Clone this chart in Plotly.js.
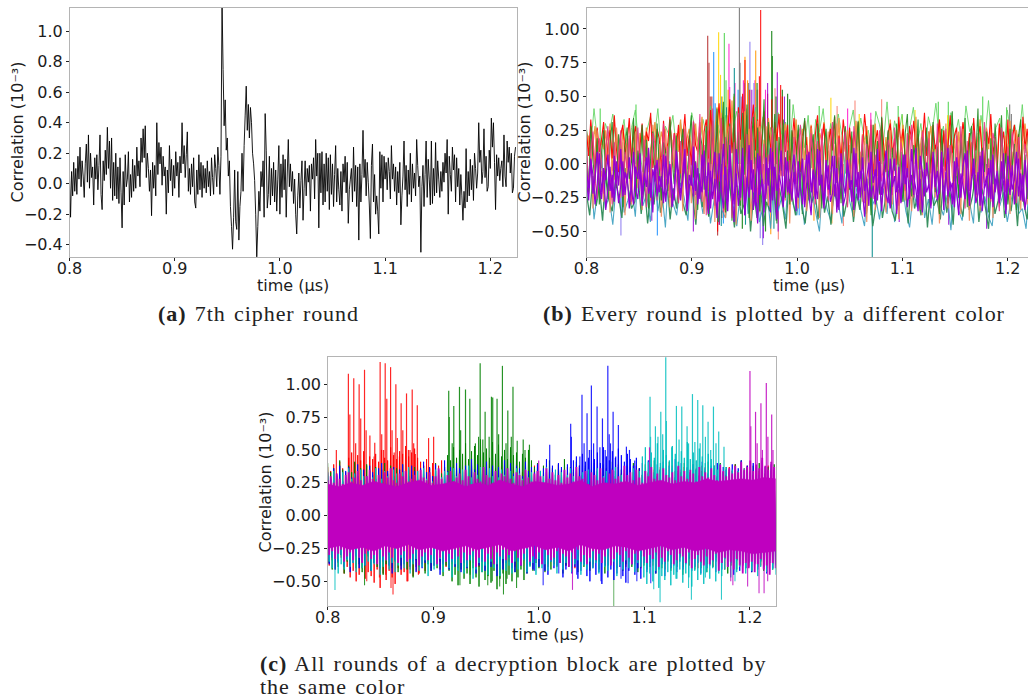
<!DOCTYPE html>
<html><head><meta charset="utf-8">
<script src="https://cdn.plot.ly/plotly-3.0.1.min.js"></script>
<style>html,body{margin:0;padding:0;background:#fff;overflow:hidden}
text.annotation-text[style*="Liberation Serif"]{letter-spacing:.95px;word-spacing:1.8px}
</style>
</head><body><div id="chart"></div>
<script>
// All correlation series are in hundredths of 10^-3.
const seventhRound = [
6,-22,8,-8,14,-5,10,-7,18,3,24,-2,15,5,-9,13,26,1,32,-3,20,4,11,-14,17,
3,19,-4,12,32,-7,-17,15,2,22,6,37,10,28,-3,30,-11,14,-8,20,-10,11,-13,17,-6,
-29,8,-14,19,-2,3,21,-12,6,-9,16,-5,12,-3,24,5,15,-2,30,14,36,17,38,4,20,
10,-5,9,-21,14,-3,12,-8,40,6,27,13,24,-1,18,5,11,-20,9,-6,25,2,16,-8,12,
-3,21,5,14,-9,18,7,40,13,25,4,19,34,-5,10,-7,13,-2,17,-12,-16,9,-7,19,-4,
14,-9,12,-3,10,-6,15,-2,8,-8,17,4,-7,19,10,-2,24,12,-7,18,120,75,38,55,22,
30,5,15,-15,-28,-43,-22,9,-25,-30,8,-37,-15,-5,20,-5,25,45,64,35,52,30,50,40,20,
13,2,-20,-48,-28,-5,-18,8,-2,15,-22,46,22,-16,-7,18,-14,10,-8,14,-12,9,-18,3,25,
-20,13,-9,19,-4,16,-22,7,29,-2,13,-5,8,-13,3,-20,-33,-8,7,-16,2,15,-24,-3,15,
-8,10,1,12,-18,13,3,17,-10,29,5,20,-29,20,-6,21,-14,13,-12,20,-5,17,-17,19,-7,
13,-15,6,25,-12,10,-4,-14,8,-18,13,1,18,-6,14,-26,-4,3,10,-12,24,-5,12,-15,11,
-37,13,-12,6,35,4,16,-8,14,1,-14,-36,12,26,-12,6,-20,-8,-18,-33,21,-3,19,-12,18,
3,14,-4,17,8,-10,25,3,13,-5,11,-14,8,-6,14,-27,-8,5,28,-4,12,-15,9,-7,20,
-12,13,-3,7,-8,29,12,-2,5,-45,-2,12,-15,6,28,-9,16,3,-14,28,-13,10,-8,27,-6,
15,3,-9,8,-5,14,1,20,7,29,-20,18,6,-5,24,9,19,-12,17,-2,10,-14,6,-8,-24,
-5,-16,23,-12,8,-8,16,-4,12,-11,20,10,-3,7,40,14,22,0,8,36,4,18,-5,-2,22,
10,43,24,40,14,-17,19,5,17,2,10,15,-2,32,5,-2,28,14,24,7,20,-6,-3,18,24];

const limeB = [
26,8,41,15,-3,30,22,37,10,19,33,2,27,40,12,-6,24,35,18,41,
5,28,21,36,9,31,14,-4,38,25,11,33,20,43,7,29,16,36,-2,26,
39,13,30,4,23,42,17,35,-5,27,10,38,22,31,6,44,19,28,12,36,
-3,33,24,41,8,30,15,37,21,-7,27,40,11,34,18,25,3,39,29,14,
46,9,32,20,37,-4,26,42,13,30,7,35,23,45,16,28,2,38,19,33,
10,43,24,31,-6,36,17,47,12,27,34,5,40,22,29,15,44,8,32,25];
const tealB = [
-28,5,-41,-19,8,-33,-24,-45,-12,3,-36,-27,-16,-39,10,-31,-22,-43,-6,-35,
-18,-47,2,-29,-38,-14,-25,-42,7,-33,-20,-37,-9,-44,-26,1,-34,-40,-15,-30,
-46,-21,6,-37,-28,-11,-43,-32,-17,-48,-8,-35,-24,-41,4,-30,-38,-13,-45,-26,
-19,-36,-50,-7,-33,-42,-22,-29,-44,9,-27,-39,-16,-34,-46,-10,-31,-25,-41,-18,
-37,3,-43,-28,-14,-35,-47,-20,-32,-5,-40,-26,-45,-12,-30,-38,-23,-49,-8,-34,
-42,-17,-29,-44,6,-36,-24,-39,-46,-11,-31,-21,-43,-27,-15,-37,-33,-48,-9,-40];
const seaB = [
-22,-38,-9,-31,-17,-42,-5,-27,-35,-12,-24,-40,-3,-19,-33,-28,-8,-37,-14,-44,
-21,-30,-6,-36,-25,-11,-41,-18,-33,-2,-29,-38,-15,-23,-45,-7,-32,-20,-39,-10,
-27,-43,-13,-34,-4,-26,-47,-16,-37,-30,-9,-50,-21,-40,-12,-46,-28,-35,-6,-42,
-18,-31,-48,-11,-25,-38,-3,-33,-44,-14,-29,-20,-41,-8,-36,-24,-45,-15,-32,-5,
-39,-27,-12,-43,-22,-34,-7,-37,-17,-46,-30,-10,-40,-25,-4,-35,-42,-19,-28,-13,
-44,-9,-33,-23,-38,-6,-47,-16,-31,-26,-41,-11,-36,-20,-45,-3,-29,-39,-14,-34,
-24,-8,-43,-18,-32,-48,-12,-37,-27,-5,-40,-22,-35,-15,-46,-9,-30,-41,-19,-28];
const forestB = [
12,-21,28,3,-14,19,-30,8,25,-9,-26,15,31,-4,-18,22,6,-32,13,27,
-11,1,34,-24,10,-7,29,-16,18,-33,5,24,-12,30,-2,-27,16,9,-20,33,
4,-15,21,-29,11,26,-6,-23,17,36,-10,2,-34,23,14,-19,28,-38,7,32,
-13,41,-25,19,46,-36,9,30,-42,52,-17,24,-31,38,-8,44,-40,15,35,-22,
27,-35,12,48,-16,31,-28,6,37,-44,20,-5,33,-25,10,-30,25,-12,3,29,
-20,16,34,-9,-27,8,22,-17,30,1,-33,13,26,-6,-23,19,36,-14,5,-29,
11,28,-3,-19,24,-34,7,32,-11,15,-26,21,2,-38,29,-8,17,-22,35,-15,
4,25,-31,12,-5,30,-18,9,-28,23,37,-10,-24,14,1,33,-35,20,-7,27,
-16,6,31,-21,13,-37,26,-2,18,-29,10,39,-13,3,-25,22,-9,34,-32,16,
28,-19,5,41,-27,12,-6,24,-36,19,-15,30,2,-23,36,-11,8,-30,26,-4,
15,-34,21,33,-17,7,-26,29,-12,18];
const orangeB = [
5,-22,18,-33,10,25,-15,-5,-28,14,22,-36,2,-12,27,8,-25,16,-38,20,
-8,-30,12,24,-18,3,-34,21,9,-14,-27,29,6,-21,15,-39,1,26,-11,-32,
18,-6,23,-24,11,-35,28,-16,4,-29,19,-41,13,31,-9,-37,24,-20,7,33,
-43,16,-13,38,-26,-40,22,30,-34,9,-45,35,-18,26,-30,41,-10,-42,19,-24,
32,-36,6,-15,28,-31,11,-22,23,-38,3,-8,29,-27,16,-44,8,25,-19,-33,
12,21,-11,-35,5,27,-24,15,-7,-40,18,-29,2,24,-17,-37,10,30,-13,-26,
7,22,-32,14,-4,-39,26,-20,9,-28,17,-43,4,-15,29,-34,12,-23,20,-10,
-36,6,25,-30,13,-18,-41,19,1,-27,23,-12,-35,8,28,-22,15,-38,3,-6,
24,-31,11,-25,18,-44,7,-16,30,-33,14,-9,-29,21,5,-37,26,-19,10,-42,
16,-3,-28,23,-35,8,-14,27,-24,12,-40,19,-7,-32,25,2,-21,15,-37,9,
-26,22,-11,-34,17,4,-30,13,-20,28];
const pinkB = [
14,-18,7,24,-12,-26,19,3,-22,11,28,-7,-30,16,-15,5,25,-24,9,-3,
21,-28,12,-10,27,1,-20,18,-32,8,-14,23,15,-27,4,-9,30,-18,13,-25,
6,22,-11,-29,17,-6,26,-33,10,-16,32,-23,2,37,-28,14,-38,25,-19,41,
-31,8,-13,34,-36,20,-24,28,-40,16,-8,38,-27,11,-33,22,-17,30,-21,5,
-29,24,-12,15,-26,7,-4,27,-20,12,-31,18,-9,25,-23,3,-28,20,-15,10,
29,-6,-25,14,-18,23,6,-30,17,-11,26,-21,1,-27,13,31,-8,-24,19,-14,
9,24,-32,4,-17,28,12,-22,-5,21,-29,15,-10,33,-26,7,-19,25,-13,2,
-28,18,11,-23,27,-7,-31,16,5,-20,22,-12,29,-25,8,-16,-34,24,13,-9,
19,-27,3,-18,30,-22,10,-11,26,-30,14,6,-24,21,-15,28,-6,-33,17,-20,
12,25,-26,-8,9,-19,31,-13,4,-28,23,16,-10,-35,27,-4,-21,13,-17,24,
7,-29,20,-12,-25,15,3,-18,26,-23];
const amberB = [
9,21,-3,15,28,4,-7,18,11,25,1,30,-5,13,22,7,-2,26,16,-8,
19,5,29,10,-4,23,14,2,27,-6,12,20,31,-1,8,24,17,-9,6,28,
15,-3,22,9,33,3,-7,19,26,12,-2,30,7,16,35,-5,21,11,38,-10,
24,42,6,29,-8,17,36,1,47,13,-12,33,20,-6,39,10,26,-4,31,14,
2,28,-7,18,9,34,22,-3,12,27,5,-9,19,30,8,-1,24,15,33,-6,
11,26,3,20,-5,29,13,7,-8,23,17,31,1,10,-4,27,21,6,34,-7,
16,9,25,-2,19,12,32,4,-6,22,14,28,8,-3,18,30,-9,11,24,2,
20,-5,33,7,15,26,-1,13,29,5,-7,21,17,9,35,-4,12,25,3,-8,
18,28,6,14,-2,31,10,22,-6,16,27,1,19,-9,24,8,30,12,-3,20,
5,26,-7,15,33,9,-1,23,11,29,-5,17,4,27,13,-8,21,6,32,-2,
16,25,8,-4,19,30,10,-6,22,14];
const redB = [
24,6,33,12,-4,27,9,18,31,-2,14,25,4,36,11,-6,22,29,7,16,
34,1,20,28,-8,13,30,5,24,17,38,-3,10,26,19,-5,32,8,15,35,
3,23,12,29,-7,18,37,6,21,-1,31,14,9,27,-10,24,33,4,40,16,
-6,28,45,11,35,-12,22,48,8,30,-9,42,18,52,2,36,-14,26,44,10,
33,-8,20,39,5,27,14,-11,31,17,37,1,23,9,29,-4,15,34,7,25,
-6,19,32,12,4,28,-9,22,36,6,16,30,-2,13,26,10,35,-7,21,3,
33,18,-5,27,8,24,14,31,-3,11,37,20,5,29,-8,16,25,2,34,12,
-6,23,30,7,19,-1,35,13,26,4,-10,28,17,32,9,22,-4,15,38,6,
24,-7,29,11,18,33,1,25,-5,14,36,8,21,27,-2,12,31,16,3,23,
-9,34,10,19,28,5,-3,26,15,37,7,20,-6,30,13,24,2,33,-8,17,
29,9,22,-4,35,11,26,6,18,32];
const violetB = [
-12,-27,3,-8,-30,-15,8,-21,-5,-34,-18,-2,-25,6,-11,-29,-16,2,-23,-7,
-33,-13,9,-19,-26,-4,-31,-10,5,-22,-14,-36,-1,-24,-9,-17,7,-28,-12,-3,
-32,-20,4,-15,-27,-6,11,-35,-18,-8,-24,1,-30,-13,-21,10,-16,-37,-5,-26,
-11,-40,8,-19,-33,-2,-28,14,-22,-43,-7,-31,-15,12,-38,-10,-25,3,-34,-18,
-44,6,-12,-29,-20,-3,-36,9,-24,-41,-8,-16,-32,5,-21,-13,-27,-6,-35,2,
-17,-30,-9,7,-23,-38,-4,-14,-26,10,-19,-33,-11,-1,-28,-22,6,-36,-15,-7,
-31,-24,3,-18,-12,-34,8,-27,-5,-20,-39,-10,1,-25,-16,-30,11,-13,-35,-6,
-22,-29,4,-17,-9,-37,-2,-26,-14,7,-32,-19,-8,-23,12,-28,-11,-36,-4,-21,
-15,-33,5,-10,-27,-18,9,-34,-6,-24,-13,-30,2,-20,-38,-7,-16,-26,10,-31,
-12,-3,-29,-22,6,-35,-17,-9,-25,3,-32,-14,-5,-28,-19,8,-37,-11,-23,-1,
-30,-15,4,-27,-8,-34,-20,11,-13,-26];
const violet2B = [
-5,-18,4,-22,-10,9,-15,-26,-3,-12,7,-20,-8,-28,2,-16,11,-24,-6,-14,
5,-19,-30,-2,-11,8,-23,-7,-17,12,-25,-4,-13,3,-21,-9,-29,6,-15,0,
-18,-27,10,-6,-22,-12,4,-31,-8,-16,13,-20,-3,-26,7,-11,-24,1,-33,-5,
9,-17,-28,-9,15,-21,-35,3,-13,-30,11,-7,-25,6,-38,-15,14,-19,-4,-31,
8,-23,-11,-36,5,-16,12,-27,-2,-20,-8,10,-29,-14,2,-22,-6,7,-18,-25,
-10,4,-32,-13,9,-21,-5,-26,11,-16,-8,-30,3,-19,-12,6,-24,-3,-34,8,
-15,-22,1,-9,-28,12,-17,-6,-25,5,-20,-11,-31,9,-14,-4,-27,2,-23,-8,
10,-18,-33,-7,4,-21,-12,-29,7,-15,-3,-26,11,-10,-19,-35,6,-6,-24,1,
-13,-30,9,-17,-5,-22,3,-28,-9,12,-20,-14,-32,5,-8,-25,-2,8,-16,-27,
-11,4,-23,-6,-31,10,-18,-13,-3,-26,7,-21,-9,-29,2,-15,-34,6,-5,-19,
-12,9,-24,-7,-28,3,-17,11,-10,-22];

// Panel (b) isolated excursions: time (us) and correlation (10^-3)
const firebrickT = [.9151,.9163,.9175,.9190,.9245,.9262,.9285];
const firebrickV = [.95,.75,.5,.5,-.53,-.45,-.4];
const dodgerT = [.9208,.9222,.9280,.9350,.9440,.8673,.8327,.9300,.9410,1.0020];
const dodgerV = [.83,.45,.5,.42,.55,-.53,-.35,-.44,-.42,-.38];
const goldT = [.9255,.9273,.9290,1.0321,1.0590,1.1000,1.1120,1.1430];
const goldV = [.975,.66,.5,.49,.37,.36,.40,.36];
const limeT = [.9309,.9325,1.0210,1.1341,1.1436,1.1763,1.1990,1.0960,.8130,.8470];
const limeV = [.97,.62,.43,.46,.46,.50,.42,.43,.41,.44];
const magentaT = [.9353,.9360,.9410,.9600,.9700,.9490,1.0480,1.0700];
const magentaV = [.89,.57,.6,.62,.55,.62,.41,.38];
const tealT = [.9404,1.0714,.9330,.9510,.9280,.9780];
const tealV = [.71,-.69,.42,-.45,-.46,-.48];
const grayT = [.9452,.9458,1.2019,1.2035,.9540];
const grayV = [1.16,.75,.44,.37,.6];
const orangeT = [.9505,.9607,.9625,.9345,.9530,.9400,1.0330,.9420,1.0160,.9750];
const orangeV = [.795,.84,.55,.55,.62,.5,-.44,-.38,-.42,-.52];
const slateT = [.9552,.9590,.9500,.9620,.9673,.9650,.8327,.9470];
const slateV = [.905,.6,.6,.55,-.6,-.55,-.53,.5];
const redSpikeT = [.9654,.9642,.9505,.9720,.9844,.9860,.9550,.9760,.9245];
const redSpikeV = [1.14,.65,.77,.52,.585,.5,.55,.48,-.5];
const greenSpikeT = [.9759,.9765,.9620,.9800,.9860,.9910,.9930,.9480,.9700,1.0050];
const greenSpikeV = [.985,.8,.6,.5,.55,.52,.48,-.48,-.5,-.37];
const violetSpikeT = [.9812,.9570,.9720,.9880,.9820,.9680,.9015,.8620,1.1800,1.1440,1.0970,.9260];
const violetSpikeV = [.68,.55,.6,.5,-.5,-.55,-.5,-.42,-.48,-.45,-.43,-.45];
const salmonT = [.9822,1.0550,1.0803,1.0380,.9790,1.0440];
const salmonV = [-.56,.47,.48,.43,.56,-.46];

// Panel (c): alternating upper and lower excursions, one pair per colour
const redUp = [
37,34,39,32,41,36,33,44,48,40,46,42,49,38,45,43,47,41,50,44,
42,52,46,43,49,47,53,45,48,51,44,41,38,43,36,40,34,38,42,35,
33,37,31,36,39,34,30,35,38,32,36,33,37,30,34,31,36,33,38,29,
35,32,37,30,34,33,36,31,35,38,32,34,30,37,33,36,31,39,34,32,
37,30,35,33,38,31,36,34,32,37,30,35,38,33,31,36,34,39,32,35,
30,37,33,38,36,31,34,32,39,35,30,37,33,36,31,38,34,32,35,37,
30,33,39,36,31,34,37,32,35,38,30,36,33,31,37,34,39,32,35,36,
38,33,31,37,34,36,32,38,35,33];
const redLow = [
-38,-34,-41,-36,-32,-44,-39,-47,-42,-50,-45,-40,-48,-43,-46,-51,-41,-55,-44,-49,
-42,-47,-52,-40,-45,-43,-50,-41,-46,-39,-44,-37,-42,-35,-40,-38,-33,-41,-36,-39,
-34,-37,-31,-40,-35,-32,-38,-34,-36,-30,-39,-33,-35,-37,-31,-34,-38,-32,-36,-30,
-35,-33,-39,-31,-37,-34,-32,-38,-30,-36,-33,-35,-31,-39,-34,-37,-32,-36,-30,-38,
-33,-35,-40,-31,-37,-34,-36,-32,-39,-30,-35,-33,-38,-31,-36,-34,-32,-37,-30,-39,
-35,-33,-37,-31,-40,-34,-36,-32,-38,-30,-35,-33,-41,-31,-37,-34,-36,-32,-39,-35,
-38,-31,-33,-40,-36,-30,-37,-34,-39,-32,-35,-33,-41,-31,-38,-36,-34,-30,-37,-35,
-39,-33,-36,-32,-38,-34,-40,-31,-37,-35];
const greenUp = [
40,33,36,30,42,35,29,38,33,41,30,36,28,39,34,31,37,29,35,40,
32,38,30,36,33,39,28,35,31,37,34,29,38,33,36,30,40,35,32,37,
46,42,52,44,50,47,55,43,49,53,46,58,48,51,44,56,47,54,45,50,
43,52,46,48,41,47,44,50,42,37,40,34,38,33,42,36,31,39,35,43,
30,37,33,41,36,29,38,32,35,40,34,31,39,36,33,41,30,37,35,32,
38,29,40,34,36,31,39,33,37,42,30,35,38,32,41,34,29,37,33,40,
36,31,39,35,30,38,34,41,32,36,29,40,33,37,35,31,39,34,42,30,
36,33,38,31,40,35,32,37,34,39];
const greenLow = [
-36,-41,-33,-39,-30,-44,-35,-38,-32,-40,-37,-43,-34,-31,-42,-36,-39,-33,-45,-37,
-30,-40,-35,-43,-38,-32,-41,-36,-47,-34,-39,-31,-44,-37,-42,-33,-40,-35,-46,-38,
-42,-50,-45,-53,-41,-48,-44,-52,-40,-47,-54,-43,-49,-46,-51,-42,-56,-48,-44,-52,
-45,-50,-43,-47,-41,-49,-44,-38,-42,-36,-40,-34,-43,-37,-41,-33,-39,-35,-44,-38,
-32,-40,-36,-43,-34,-39,-31,-42,-37,-35,-41,-33,-44,-38,-36,-30,-40,-34,-42,-37,
-33,-39,-35,-43,-31,-38,-41,-36,-34,-44,-32,-40,-37,-35,-42,-33,-39,-31,-45,-36,
-38,-34,-41,-30,-40,-37,-43,-33,-39,-35,-42,-36,-32,-44,-38,-34,-41,-37,-31,-40,
-36,-43,-33,-39,-35,-42,-38,-34,-41,-37];
const blueUp = [
33,28,36,31,38,26,34,37,29,32,39,27,35,30,38,33,28,36,40,31,
34,29,37,27,35,39,32,30,38,34,28,36,41,33,37,30,39,35,29,42,
34,37,31,40,36,33,38,30,43,35,39,32,36,41,34,38,31,37,33,42,
35,40,32,38,36,30,41,34,37,33,39,31,36,43,35,38,32,40,37,34,
39,33,42,45,38,47,41,44,50,43,48,40,52,45,42,49,44,51,46,41,
47,43,38,44,36,40,34,42,37,33,39,35,41,32,38,36,43,34,40,31,
37,33,39,35,30,41,36,32,38,34,40,31,37,35,33,39,32,36,42,34,
38,33,40,36,31,42,37,34,39,35];
const blueLow = [
-37,-32,-41,-35,-30,-39,-33,-43,-36,-31,-40,-34,-38,-29,-42,-36,-33,-40,-35,-31,
-38,-44,-34,-30,-41,-37,-32,-39,-35,-43,-33,-40,-36,-31,-42,-38,-34,-45,-37,-32,
-41,-35,-39,-33,-43,-36,-40,-34,-31,-44,-38,-35,-42,-33,-39,-37,-46,-34,-41,-36,
-32,-40,-43,-35,-38,-33,-44,-37,-41,-34,-39,-36,-42,-45,-35,-40,-38,-33,-47,-41,
-36,-44,-39,-48,-42,-37,-46,-50,-40,-45,-43,-52,-38,-47,-41,-49,-44,-39,-46,-51,
-42,-37,-45,-40,-48,-36,-43,-39,-35,-44,-41,-37,-46,-34,-40,-38,-43,-35,-41,-37,
-33,-42,-39,-36,-44,-34,-40,-38,-35,-43,-37,-41,-33,-39,-36,-45,-34,-42,-38,-40,
-35,-43,-37,-41,-34,-39,-44,-36,-40,-38];
const cyanUp = [
31,27,34,29,25,33,30,36,28,32,26,35,30,27,33,29,36,31,28,34,
30,26,35,32,28,33,29,37,27,31,34,30,36,28,32,26,35,31,29,34,
33,28,36,30,27,35,32,38,29,33,31,37,34,28,36,30,33,29,35,31,
27,34,30,36,32,28,35,29,33,31,26,34,30,37,28,32,35,29,33,27,
31,36,30,34,28,33,29,35,31,27,36,32,30,34,28,33,37,29,31,35,
27,32,36,30,34,45,52,41,48,44,55,40,50,46,42,53,47,41,49,44,
56,43,48,42,51,45,40,47,43,38,35,39,33,37,31,35,29,34,32,36,
30,34,28,33,31,35,29,32,36,30];
const cyanLow = [
-35,-40,-33,-44,-37,-41,-34,-39,-36,-43,-32,-40,-38,-35,-42,-37,-33,-45,-39,-34,
-41,-36,-43,-38,-32,-40,-35,-44,-37,-33,-42,-39,-34,-46,-36,-41,-38,-33,-43,-35,
-40,-47,-37,-42,-36,-44,-39,-34,-48,-41,-36,-43,-38,-45,-35,-40,-37,-46,-33,-42,
-38,-44,-35,-41,-37,-34,-43,-39,-36,-45,-33,-40,-37,-42,-35,-38,-44,-34,-41,-36,
-39,-43,-37,-34,-45,-38,-41,-35,-40,-36,-44,-33,-39,-42,-37,-35,-46,-38,-41,-34,
-40,-37,-43,-36,-39,-47,-52,-44,-50,-42,-55,-46,-49,-43,-53,-45,-48,-41,-51,-44,
-47,-54,-42,-49,-45,-52,-43,-48,-40,-50,-44,-46,-41,-38,-47,-35,-43,-39,-36,-44,
-38,-42,-35,-46,-39,-37,-43,-36,-41,-45];
const magentaUp = [
27,30,25,32,28,24,31,33,26,29,34,27,23,30,35,28,26,31,24,33,
29,36,27,25,32,30,34,26,28,31,23,35,29,27,33,25,30,36,28,24,
31,34,26,29,32,27,35,30,24,33,28,26,37,31,29,25,34,27,32,30,
36,28,25,33,31,27,35,29,26,32,34,30,24,36,28,33,27,31,25,35,
29,32,26,37,30,28,34,24,33,31,27,36,29,25,32,35,28,30,26,38,
31,33,27,35,29,25,34,30,37,28,32,26,36,31,29,33,27,38,30,34,
28,35,32,26,37,30,33,29,36,31,27,39,34,30,36,32,38,33,41,35,
37,42,34,39,36,44,38,35,41,37];
const magentaLow = [
-30,-27,-33,-29,-26,-35,-31,-28,-34,-25,-32,-36,-29,-27,-33,-30,-37,-26,-31,-34,
-28,-32,-25,-36,-30,-27,-35,-33,-29,-26,-38,-31,-28,-34,-30,-25,-37,-32,-27,-35,
-29,-33,-26,-31,-36,-28,-34,-30,-27,-39,-32,-25,-35,-29,-33,-37,-28,-31,-26,-34,
-30,-36,-27,-32,-38,-29,-25,-35,-31,-33,-28,-37,-26,-30,-34,-32,-27,-36,-29,-31,
-39,-28,-33,-26,-35,-30,-37,-32,-27,-34,-29,-36,-31,-25,-38,-33,-28,-30,-35,-27,
-32,-37,-29,-34,-26,-31,-36,-30,-33,-28,-39,-32,-35,-27,-30,-37,-34,-29,-31,-36,
-28,-40,-33,-30,-35,-38,-31,-37,-34,-29,-42,-36,-32,-39,-35,-41,-33,-38,-44,-36,
-40,-35,-43,-37,-33,-41,-38,-45,-36,-40];
// Solid magenta core of panel (c): its upper and lower edges
const coreUp = [24,22,25,23,26,24,22,25,27,23,24,26,22,25,23,27,24,22,26,25,23,24,27,22,25,24,26,23,25,27,24,26,25,28,26,27,28,27,29,28];
const coreLow = [-25,-23,-26,-24,-27,-23,-25,-22,-26,-24,-27,-25,-23,-26,-24,-22,-27,-25,-23,-26,-24,-27,-22,-25,-26,-23,-24,-27,-25,-23,-26,-24,-27,-25,-28,-26,-27,-29,-28,-27];

// Panel (c) isolated excursions
const redPeakT = [.8082,.8196,.8210,.8247,.8265,.8298,.8313,.8349,.8364,.8400,.8446,.8497,.8512,.8545,.8560,.8596,.8610,.8646,.8660,.8696,.8712,.8747,.8765,.8801,.8815,.8849,.8956,.9004,.8440,.8530,.8630,.8680,.8780,.8830,.8760,.8860];
const redPeakV = [.5,1.08,.77,1.045,.55,1.0,.74,1.11,.65,.61,.555,1.17,.62,1.16,.89,1.13,.65,1.0,.59,.855,.65,.93,.5,.96,.55,.84,.59,.6,.45,.5,.48,.45,.5,.47,-.5,-.45];
const redLowT = [.8619,.8600,.8370,.8550,.8490,.8840];
const redLowV = [-.6,-.55,-.5,-.45,-.47,-.42];
const greenPeakT = [.9147,.9152,.9195,.9249,.9260,.9306,.9347,.9445,.9492,.9552,.9564,.9605,.9656,.9707,.9756,.9796,.9853,.9912,.9180,.9400,.9430,.9470,.9530,.9620,.9690,.9740,.9870];
const greenPeakV = [.95,.75,.835,.98,.65,.96,.89,1.16,.79,.905,.9,.89,1.14,.8,.98,.57,.58,.54,.55,.55,.6,.58,.6,.62,.55,.6,.5];
const greenLowT = [.9253,.9517,.9666,.9630,.9790,.8349,.9700,.9560,.9350];
const greenLowV = [-.53,-.53,-.6,-.54,-.55,-.53,-.48,-.5,-.45];
const greenFaintT = [1.0711];
const greenFaintV = [-.69];
const bluePeakT = [1.0303,1.0310,1.0410,1.0458,1.0499,1.0520,1.0553,1.0604,1.0655,1.0668,1.0705,1.0755,1.0104,1.0831,1.0860,1.0390,1.0430,1.0480,1.0580,1.0630,1.0680,1.0730,1.0910];
const bluePeakV = [.70,.6,.92,.78,.99,.55,.83,.74,1.14,.62,.79,.69,.54,.525,.5,.45,.55,.5,.52,.5,.55,.45,.42];
const blueLowT = [1.0042,1.0847,1.1062,1.0590,1.0360,1.0780,1.0930,.9960,1.0190];
const blueLowV = [-.53,-.515,-.515,-.5,-.45,-.48,-.5,-.42,-.44];
const cyanPeakT = [1.1055,1.1060,1.1106,1.1157,1.1175,1.1204,1.1210,1.1305,1.1356,1.1406,1.1420,1.1457,1.1507,1.1555,1.1605,1.1656,1.1706,1.1756,1.1130,1.1260,1.1330,1.1480,1.1530,1.1580,1.1630,1.1680];
const cyanPeakV = [.905,.6,.68,.79,.62,1.21,.72,.835,.83,.68,.55,.925,.88,.84,.715,.83,.64,.525,.6,.52,.58,.56,.55,.6,.5,.55];
const cyanLowT = [1.1150,1.1447,1.1732,.8069,1.1090,1.1300,1.1580,1.1860,1.1420];
const cyanLowV = [-.66,-.64,-.64,-.565,-.56,-.48,-.47,-.5,-.55];
const magentaPeakT = [1.2002,1.2010,1.2055,1.2070,1.2106,1.2120,1.2157,1.2172,1.2208,1.2220,1.1050,1.0000];
const magentaPeakV = [1.10,.68,.79,.55,.855,.5,1.01,.6,.77,.5,.52,.42];
const magentaLowT = [1.0320,1.2088,1.2136,1.1980,1.1820,1.2170,1.1840];
const magentaLowV = [-.565,-.59,-.59,-.54,-.5,-.5,-.53];

const SCALE = 0.01, T0 = 0.8, T1 = 1.2246;
const W = 1028, H = 699;
const SEVENTH_STEP = 0.001;

function times(n){ const s=(T1-T0)/(n-1); return Array.from({length:n},(_,i)=>T0+i*s); }
function dense(arr,color,width,opacity,ax){
  return {type:'scatter',mode:'lines',x:times(arr.length),y:arr.map(v=>v*SCALE),
    line:{color:color,width:width,simplify:false},opacity:opacity,xaxis:ax[0],yaxis:ax[1],hoverinfo:'skip',showlegend:false};
}
function band(up,low,color,width,ax){
  const y=[];
  up.forEach((v,i)=>{y.push(v*SCALE,low[i]*SCALE);});
  return {type:'scatter',mode:'lines',x:times(y.length),y:y,
    line:{color:color,width:width,simplify:false},xaxis:ax[0],yaxis:ax[1],hoverinfo:'skip',showlegend:false};
}
function solid(up,low,color,ax){
  return {type:'scatter',mode:'lines',x:times(up.length).concat(times(low.length).reverse()),
    y:up.map(v=>v*SCALE).concat(low.slice().reverse().map(v=>v*SCALE)),
    fill:'toself',fillcolor:color,line:{color:color,width:.5},xaxis:ax[0],yaxis:ax[1],hoverinfo:'skip',showlegend:false};
}
function spikes(ts,vs,color,width,opacity,ax){
  const x=[],y=[];
  ts.forEach((t,i)=>{x.push(t,t,null);y.push(0,vs[i],null);});
  return {type:'scatter',mode:'lines',x:x,y:y,line:{color:color,width:width},opacity:opacity,
    xaxis:ax[0],yaxis:ax[1],hoverinfo:'skip',showlegend:false};
}
const A=['x','y'],B=['x2','y2'],C=['x3','y3'];
const traces=[
  {type:'scatter',mode:'lines',x:seventhRound.map((_,i)=>T0+i*SEVENTH_STEP),y:seventhRound.map(v=>v*SCALE),
   line:{color:'#000',width:.9,simplify:false},xaxis:'x',yaxis:'y',hoverinfo:'skip',showlegend:false},

  spikes(limeT,limeV,'#32cd32',1.1,.8,B),
  spikes(dodgerT,dodgerV,'#1e90ff',1.1,.9,B),
  spikes(goldT,goldV,'#ffd700',1.1,.9,B),
  spikes(firebrickT,firebrickV,'#b22222',1.2,.8,B),
  spikes(magentaT,magentaV,'#ff1dce',1.1,.9,B),
  spikes(tealT,tealV,'#008b8b',1.1,.9,B),
  spikes(grayT,grayV,'#707070',1.1,.9,B),
  spikes(orangeT,orangeV,'#ff9800',1.1,.9,B),
  spikes(slateT,slateV,'#7b68ee',1.1,.8,B),
  spikes(salmonT,salmonV,'#fa8072',1.1,.9,B),
  spikes(greenSpikeT,greenSpikeV,'#228b22',1.2,.95,B),
  spikes(redSpikeT,redSpikeV,'#ff0000',1.1,.9,B),
  spikes(violetSpikeT,violetSpikeV,'#9400d3',1.1,.85,B),
  dense(limeB,'#5fd35f',1,.85,B),
  dense(tealB,'#3a9fc0',1.1,.9,B),
  dense(seaB,'#2e8b57',1.3,.95,B),
  dense(amberB,'#f0953c',1.3,.95,B),
  dense(redB,'#ff0000',1.1,.95,B),
  dense(orangeB,'#ef8a5a',1.2,.9,B),
  dense(forestB,'#228b22',1.1,.9,B),
  dense(pinkB,'#e8348a',1.1,.9,B),
  dense(violet2B,'#9400d3',1.3,1,B),
  dense(violetB,'#9400d3',1.2,1,B),

  spikes(redPeakT,redPeakV,'#ff0000',1.2,.85,C),
  spikes(redLowT,redLowV,'#ff0000',1.1,.8,C),
  band(redUp,redLow,'#ff0000',.9,C),
  spikes(greenPeakT,greenPeakV,'#008000',1.2,.85,C),
  spikes(greenLowT,greenLowV,'#008000',1.1,.8,C),
  spikes(greenFaintT,greenFaintV,'#008000',1.1,.55,C),
  band(greenUp,greenLow,'#008000',.9,C),
  spikes(bluePeakT,bluePeakV,'#0000ff',1.2,.85,C),
  spikes(blueLowT,blueLowV,'#0000ff',1.1,.8,C),
  band(blueUp,blueLow,'#0000ff',.9,C),
  spikes(cyanPeakT,cyanPeakV,'#00bfbf',1.2,.85,C),
  spikes(cyanLowT,cyanLowV,'#00bfbf',1.1,.8,C),
  band(cyanUp,cyanLow,'#00bfbf',.9,C),
  spikes(magentaPeakT,magentaPeakV,'#bf00bf',1.2,.85,C),
  spikes(magentaLowT,magentaLowV,'#bf00bf',1.1,.8,C),
  band(magentaUp,magentaLow,'#bf00bf',1.8,C),
  solid(coreUp,coreLow,'#bf00bf',C)
];

const tickFont={family:'"DejaVu Sans", sans-serif',size:16,color:'#1c1c1c'};
const tf=(px0,px1)=>[px0/W,px1/W];
const tfY=(top,bot)=>[1-bot/H,1-top/H];
function xAxis(dom,range,anchor){return {domain:dom,range:range,anchor:anchor,dtick:.1,tick0:.8,tickformat:'.1f',
  showline:true,mirror:true,linecolor:'#b4b4b4',linewidth:1,showgrid:false,zeroline:false,
  ticks:'outside',ticklen:2.5,tickcolor:'#222',tickwidth:1,tickfont:tickFont,ticklabelstandoff:-6};}
function yAxis(dom,range,anchor,d,fmt){return {domain:dom,range:range,anchor:anchor,dtick:d,tick0:0,tickformat:fmt,
  showline:true,mirror:true,linecolor:'#b4b4b4',linewidth:1,showgrid:false,zeroline:false,
  ticks:'outside',ticklen:2.5,tickcolor:'#222',tickwidth:1,tickfont:tickFont};}

const labelFont={family:'"DejaVu Sans", sans-serif',size:16,color:'#1c1c1c'};
const capFont={family:'"Liberation Serif", serif',size:22,color:'#222'};
function note(text,px,py,font,extra){
  return Object.assign({xref:'paper',yref:'paper',x:px/W,y:1-py/H,text:text,showarrow:false,font:font,
    xanchor:'center',yanchor:'middle'},extra||{});
}
const yTitle='Correlation (10⁻³)';
const annotations=[
  note(yTitle,17,132.5,labelFont,{textangle:-90}),
  note(yTitle,524,132.5,labelFont,{textangle:-90}),
  note(yTitle,265,482.5,labelFont,{textangle:-90}),
  note('time (µs)',293,285,labelFont),
  note('time (µs)',809,285,labelFont),
  note('time (µs)',548,634,labelFont),
  note('<b>(a)</b> 7th cipher round',258,313,capFont),
  note('<b>(b)</b> Every round is plotted by a different color',774,313,capFont),
  note('<b>(c)</b> All rounds of a decryption block are plotted by',258,663,capFont,{xanchor:'left'}),
  note('the same color',258,686,capFont,{xanchor:'left'})
];

const layout={width:W,height:H,margin:{l:0,r:0,t:0,b:0},paper_bgcolor:'#fff',plot_bgcolor:'#fff',showlegend:false,
  xaxis:xAxis(tf(69.5,516.7),[.8,1.2251],'y'),
  yaxis:yAxis(tfY(7.5,257),[-.481,1.156],'x',.2,'.1f'),
  xaxis2:xAxis(tf(586.5,1028),[.8,1.2193],'y2'),
  yaxis2:yAxis(tfY(7.5,257),[-.689,1.159],'x2',.25,'.2f'),
  xaxis3:xAxis(tf(327.7,775.7),[.8,1.2246],'y3'),
  yaxis3:yAxis(tfY(357.3,606.3),[-.69,1.205],'x3',.25,'.2f'),
  annotations:annotations};
Plotly.newPlot('chart',traces,layout,{displayModeBar:false,staticPlot:true});
</script></body></html>
